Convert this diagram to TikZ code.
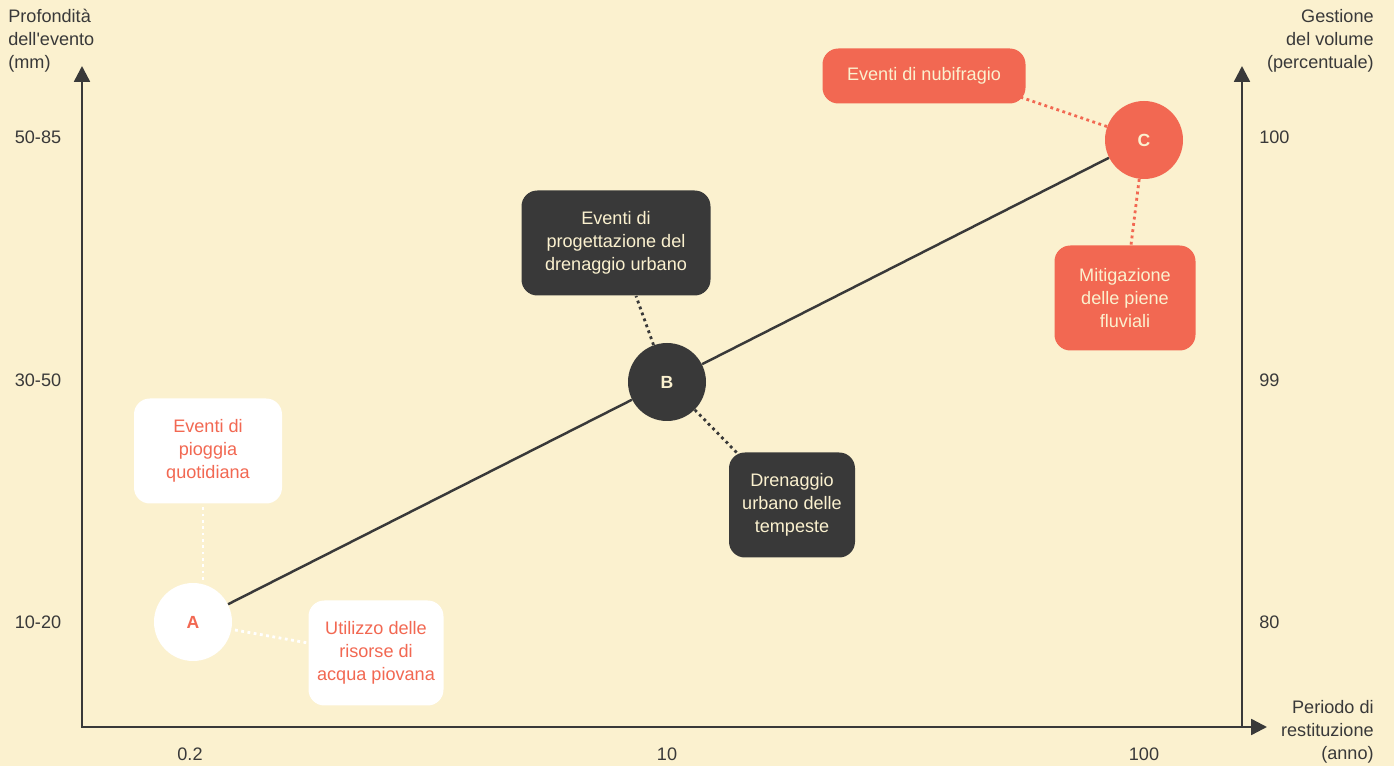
\documentclass[tikz,border=0pt]{standalone}
\usepackage{fontspec}
\setmainfont{Liberation Sans}
\newfontfamily\plainfont{Liberation Sans}
\usetikzlibrary{arrows.meta}
\definecolor{cream}{RGB}{251,241,207}
\definecolor{ink}{RGB}{57,57,57}
\definecolor{coral}{RGB}{242,104,82}
\tikzset{
  axis/.style={draw=ink, line width=2.4pt*0.567, -{Triangle[length=9pt,width=9pt]}},
  lbl/.style={font=\fontsize{10.3}{13}\selectfont, text=ink, inner sep=0pt},
  box/.style={rounded corners=9pt, minimum height=105*0.02cm, align=center, inner sep=0pt,
     font=\fontsize{10.3}{13}\selectfont},
  whitebox/.style={box, fill=white, text=coral},
  darkbox/.style={box, fill=ink, text=cream},
  coralbox/.style={box, fill=coral, text=cream},
  dot/.style={circle, minimum size=78*0.02cm, inner sep=0pt, font=\fontsize{10}{12}\selectfont\bfseries},
  conn/.style={line width=1.6pt, dotted},
}
\begin{document}
\begin{tikzpicture}[x=0.02cm,y=-0.02cm]
\fill[cream] (0,0) rectangle (1394,766);
\useasboundingbox (0,0) rectangle (1394,766);
% axes
\coordinate (O) at (82,727);
\coordinate (Ytop) at (82,66);
\coordinate (Xend) at (1267,727);
\coordinate (R0) at (1242,727);
\coordinate (Rtop) at (1242,66);
\draw[axis] (O) -- (Ytop);
\draw[axis] (R0) -- (Rtop);
\draw[axis] ([xshift=-0.6pt]O) -- (Xend);
% axis titles
\node[lbl, anchor=north west, align=left] (ytitle) at (8,9) {Profondità\\dell{\plainfont '}evento\\(mm)};
\node[lbl, anchor=north east, align=right] (rtitle) at (1374,9) {Gestione\\del volume\\(percentuale)};
\node[lbl, anchor=north east, align=right] (xtitle) at (1374,700) {Periodo di\\restituzione\\(anno)};
% ticks
\node[lbl] (l1) at (38,137) {50-85};
\node[lbl] (l2) at (38,380) {30-50};
\node[lbl] (l3) at (38,622) {10-20};
\node[lbl, anchor=west] (r1) at (1259,137) {100};
\node[lbl, anchor=west] (r2) at (1259,380) {99};
\node[lbl, anchor=west] (r3) at (1259,622) {80};
\node[lbl] (b1) at (190,754) {0.2};
\node[lbl] (b2) at (667,754) {10};
\node[lbl] (b3) at (1144,754) {100};
% points
\node[dot, fill=white, text=coral] (A) at (193,622) {A};
\node[dot, fill=ink, text=cream] (B) at (667,382) {B};
\node[dot, fill=coral, text=cream] (C) at (1144,140) {C};
\draw[ink, line width=1.4pt] (A) -- (B) -- (C);
% boxes
\node[whitebox, minimum width=148*0.02cm] (a1) at (208,451) {Eventi di\\pioggia\\quotidiana};
\node[whitebox, minimum width=135*0.02cm] (a2) at (376,653) {Utilizzo delle\\risorse di\\acqua piovana};
\node[darkbox, minimum width=189*0.02cm] (b1box) at (616,243) {Eventi di\\progettazione del\\drenaggio urbano};
\node[darkbox, minimum width=126*0.02cm] (b2box) at (792,505) {Drenaggio\\urbano delle\\tempeste};
\node[coralbox, minimum width=203*0.02cm, minimum height=55*0.02cm] (c1) at (924,76) {Eventi di nubifragio};
\node[coralbox, minimum width=141*0.02cm] (c2) at (1125,298) {Mitigazione\\delle piene\\fluviali};
% connectors
\coordinate (a1b) at (203,505);
\coordinate (a2l) at (308,643);
\draw[conn, white] (A.north -| a1b) ++(0,-3) -- (a1b);
\draw[conn, white] (A) ++(42,8) -- (a2l);
\draw[conn, ink] (B.110) -- (636,296);
\draw[conn, ink] (B.-45) -- (741,457);
\draw[conn, coral] (C.160) -- (1020,97);
\draw[conn, coral] (C.-97) -- (1131,245);
\end{tikzpicture}
\end{document}
